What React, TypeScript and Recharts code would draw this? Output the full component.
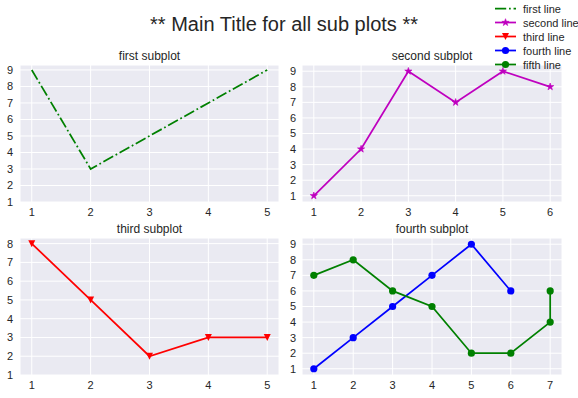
import React from 'react';
import { LineChart, Line, XAxis, YAxis, CartesianGrid } from 'recharts';

// ---- data ----
const firstX = [1, 2, 3, 4, 5];
const firstY = [9, 3, 5, 7, 9];
const secondX = [1, 2, 3, 4, 5, 6];
const secondY = [1, 4, 9, 7, 9, 8];
const thirdX = [1, 2, 3, 4, 5];
const thirdY = [8, 5, 2, 3, 3];
const fourthX = [1, 2, 3, 4, 5, 6];
const fourthY = [1, 3, 5, 7, 9, 6];
const fifthX = [1, 2, 3, 4, 5, 6, 7, 7];
const fifthY = [7, 8, 6, 5, 2, 2, 4, 6];

const xTicks5 = [1, 2, 3, 4, 5];
const xTicks6 = [1, 2, 3, 4, 5, 6];
const xTicks7 = [1, 2, 3, 4, 5, 6, 7];
const yTicks9 = [1, 2, 3, 4, 5, 6, 7, 8, 9];
const yTicks8 = [1, 2, 3, 4, 5, 6, 7, 8];

const mainTitle = '** Main Title for all sub plots **';
const subTitles = ['first subplot', 'second subplot', 'third subplot', 'fourth subplot'];
const legendLabels = ['first line', 'second line', 'third line', 'fourth line', 'fifth line'];

const zip = (xs: number[], ys: number[]) => xs.map((x, i) => ({ x, y: ys[i] }));
const firstData = zip(firstX, firstY);
const secondData = zip(secondX, secondY);
const thirdData = zip(thirdX, thirdY);
const fourthData = zip(fourthX, fourthY);
const fifthData = zip(fifthX, fifthY);

const FONT = '"Liberation Sans", Arial, Helvetica, sans-serif';
const TEXT = '#262626';
const GREEN = '#008000';
const MAGENTA = '#BF00BF';
const RED = '#FF0000';
const BLUE = '#0000FF';
const LW = 1.75;
const DASHDOT = '11.2 2.8 1.75 2.8';

const starPath = (cx: number, cy: number, R: number, r: number) => {
  let d = '';
  for (let i = 0; i < 10; i++) {
    const rad = i % 2 === 0 ? R : r;
    const a = -Math.PI / 2 + (i * Math.PI) / 5;
    d += (i === 0 ? 'M' : 'L') + (cx + rad * Math.cos(a)).toFixed(2) + ',' + (cy + rad * Math.sin(a)).toFixed(2);
  }
  return d + 'Z';
};
const triPath = (cx: number, cy: number, s: number) =>
  `M${cx - s},${cy - s}L${cx + s},${cy - s}L${cx},${cy + s}Z`;

const starDot = (p: any) => (
  <path key={`st-${p.index}`} d={starPath(p.cx, p.cy, 3.8, 1.5)} fill={MAGENTA} stroke={MAGENTA} strokeWidth={0.6} />
);
const triDot = (p: any) => <path key={`tr-${p.index}`} d={triPath(p.cx, p.cy, 3.5)} fill={RED} />;
const blueDot = (p: any) => <circle key={`bd-${p.index}`} cx={p.cx} cy={p.cy} r={3.6} fill={BLUE} />;
const greenDot = (p: any) => <circle key={`gd-${p.index}`} cx={p.cx} cy={p.cy} r={3.6} fill={GREEN} />;

const tickStyle = { fill: TEXT, fontSize: 11, fontFamily: FONT };

type PanelProps = {
  left: number;
  top: number;
  yWidth: number;
  rightMargin: number;
  yMargin: number;
  xDomain: [number, number];
  xTicks: number[];
  yDomain: [number, number];
  yTicks: number[];
  children: React.ReactNode;
};

const Panel = ({ left, top, yWidth, rightMargin, yMargin, xDomain, xTicks, yDomain, yTicks, children }: PanelProps) => (
  <div style={{ position: 'absolute', left, top }}>
    <LineChart width={290} height={170} margin={{ top: 5, right: rightMargin, left: 0, bottom: 0 }}>
      <CartesianGrid stroke="#ffffff" strokeWidth={1} fill="#EAEAF2" fillOpacity={1} />
      <XAxis
        type="number"
        dataKey="x"
        domain={xDomain}
        ticks={xTicks}
        allowDataOverflow
        interval={0}
        height={28}
        axisLine={false}
        tickLine={false}
        tickSize={0}
        tickMargin={6}
        tick={tickStyle}
      />
      <YAxis
        type="number"
        dataKey="y"
        domain={yDomain}
        ticks={yTicks}
        allowDataOverflow
        interval={0}
        width={yWidth}
        axisLine={false}
        tickLine={false}
        tickSize={0}
        tickMargin={yMargin}
        tick={tickStyle}
      />
      {children}
    </LineChart>
  </div>
);

const legendRow = (i: number) => 8.5 + i * 14;

export default function App() {
  return (
    <div style={{ position: 'absolute', left: 0, top: 0, width: 578, height: 398, background: '#ffffff', fontFamily: FONT }}>
      <Panel left={0} top={60} yWidth={20} rightMargin={11} yMargin={7} xDomain={[0.8, 5.2]} xTicks={xTicks5} yDomain={[1, 9.3]} yTicks={yTicks9}>
        <Line data={firstData} dataKey="y" stroke={GREEN} strokeWidth={LW} strokeDasharray={DASHDOT} dot={false} activeDot={false} isAnimationActive={false} />
      </Panel>
      <Panel left={288} top={60} yWidth={14} rightMargin={16} yMargin={6} xDomain={[0.75, 6.25]} xTicks={xTicks6} yDomain={[0.6, 9.4]} yTicks={yTicks9}>
        <Line data={secondData} dataKey="y" stroke={MAGENTA} strokeWidth={LW} dot={starDot} activeDot={false} isAnimationActive={false} />
      </Panel>
      <Panel left={0} top={233} yWidth={20} rightMargin={11} yMargin={7} xDomain={[0.8, 5.2]} xTicks={xTicks5} yDomain={[1, 8.3]} yTicks={yTicks8}>
        <Line data={thirdData} dataKey="y" stroke={RED} strokeWidth={LW} dot={triDot} activeDot={false} isAnimationActive={false} />
      </Panel>
      <Panel left={288} top={233} yWidth={14} rightMargin={16} yMargin={6} xDomain={[0.7, 7.3]} xTicks={xTicks7} yDomain={[0.6, 9.4]} yTicks={yTicks9}>
        <Line data={fourthData} dataKey="y" stroke={BLUE} strokeWidth={LW} dot={blueDot} activeDot={false} isAnimationActive={false} />
        <Line data={fifthData} dataKey="y" stroke={GREEN} strokeWidth={LW} dot={greenDot} activeDot={false} isAnimationActive={false} />
      </Panel>

      <svg width={578} height={398} style={{ position: 'absolute', left: 0, top: 0, pointerEvents: 'none' }}>
        <text x={284} y={31} textAnchor="middle" fontSize={20} fill={TEXT} fontFamily={FONT}>{mainTitle}</text>
        <text x={149.5} y={60} textAnchor="middle" fontSize={12} fill={TEXT} fontFamily={FONT}>{subTitles[0]}</text>
        <text x={432} y={60} textAnchor="middle" fontSize={12} fill={TEXT} fontFamily={FONT}>{subTitles[1]}</text>
        <text x={149.5} y={233} textAnchor="middle" fontSize={12} fill={TEXT} fontFamily={FONT}>{subTitles[2]}</text>
        <text x={432} y={233} textAnchor="middle" fontSize={12} fill={TEXT} fontFamily={FONT}>{subTitles[3]}</text>

        {/* legend */}
        <line x1={495} x2={516} y1={legendRow(0)} y2={legendRow(0)} stroke={GREEN} strokeWidth={LW} strokeDasharray={DASHDOT} />
        <line x1={495} x2={516} y1={legendRow(1)} y2={legendRow(1)} stroke={MAGENTA} strokeWidth={LW} />
        <path d={starPath(505.5, legendRow(1), 3.8, 1.5)} fill={MAGENTA} stroke={MAGENTA} strokeWidth={0.6} />
        <line x1={495} x2={516} y1={legendRow(2)} y2={legendRow(2)} stroke={RED} strokeWidth={LW} />
        <path d={triPath(505.5, legendRow(2), 3.5)} fill={RED} />
        <line x1={495} x2={516} y1={legendRow(3)} y2={legendRow(3)} stroke={BLUE} strokeWidth={LW} />
        <circle cx={505.5} cy={legendRow(3)} r={3.6} fill={BLUE} />
        <line x1={495} x2={516} y1={legendRow(4)} y2={legendRow(4)} stroke={GREEN} strokeWidth={LW} />
        <circle cx={505.5} cy={legendRow(4)} r={3.6} fill={GREEN} />
        {legendLabels.map((t, i) => (
          <text key={t} x={523} y={legendRow(i) + 4} fontSize={11} fill={TEXT} fontFamily={FONT}>{t}</text>
        ))}
      </svg>
    </div>
  );
}
